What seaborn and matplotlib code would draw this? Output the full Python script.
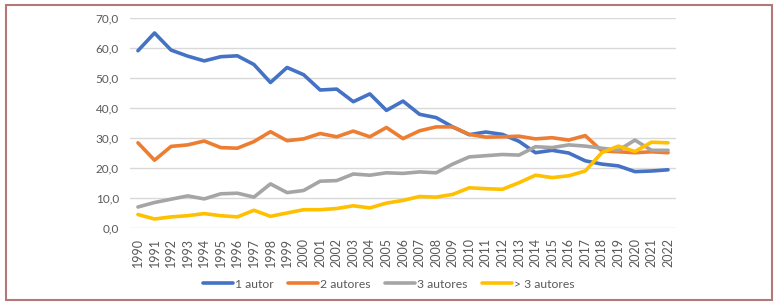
import numpy as np
import pandas as pd
import matplotlib
matplotlib.use("Agg")
import matplotlib.pyplot as plt
import seaborn as sns
from matplotlib.patches import Rectangle

years = list(range(1990, 2023))
autor_1 = [59.2, 65.1, 59.4, 57.4, 55.8, 57.2, 57.5, 54.6, 48.6, 53.6, 51.2,
           46.1, 46.4, 42.2, 44.8, 39.3, 42.4, 38.0, 36.9, 33.8, 31.2, 32.1,
           31.3, 29.0, 25.2, 26.0, 25.1, 22.5, 21.4, 20.8, 18.9, 19.1, 19.5]
autores_2 = [28.5, 22.7, 27.3, 27.8, 29.1, 26.9, 26.7, 28.9, 32.2, 29.2, 29.8,
             31.6, 30.5, 32.4, 30.5, 33.6, 29.9, 32.5, 33.8, 33.8, 31.3, 30.4,
             30.5, 30.7, 29.8, 30.2, 29.4, 30.9, 25.8, 25.5, 25.2, 25.5, 25.2]
autores_3 = [7.1, 8.6, 9.7, 10.8, 9.8, 11.5, 11.7, 10.4, 14.8, 11.9, 12.6,
             15.7, 15.9, 18.1, 17.7, 18.5, 18.3, 18.8, 18.5, 21.4, 23.8, 24.2,
             24.6, 24.4, 27.2, 26.9, 27.8, 27.4, 26.7, 26.0, 29.4, 26.0, 26.0]
autores_mas3 = [4.6, 3.1, 3.8, 4.2, 4.9, 4.2, 3.8, 6.0, 4.0, 5.1, 6.2,
                6.2, 6.6, 7.5, 6.8, 8.4, 9.3, 10.6, 10.4, 11.3, 13.5, 13.2,
                13.0, 15.2, 17.7, 16.9, 17.5, 19.1, 25.2, 27.4, 25.6, 28.7, 28.5]
series_names = ["1 autor", "2 autores", "3 autores", "> 3 autores"]
colors = ["#4472C4", "#ED7D31", "#A5A5A5", "#FFC000"]
yticks = [0, 10, 20, 30, 40, 50, 60, 70]

df = pd.DataFrame({
    "year": years * 4,
    "value": autor_1 + autores_2 + autores_3 + autores_mas3,
    "serie": sum([[n] * len(years) for n in series_names], []),
})

sns.set_theme(style="white")
plt.rcParams["font.family"] = ["Lato", "DejaVu Sans"]

fig = plt.figure(figsize=(7.77, 3.06), dpi=100)
ax = fig.add_axes([130 / 777, 1 - 228.3 / 306, 546 / 777, 210 / 306])

sns.lineplot(data=df, x="year", y="value", hue="serie", hue_order=series_names,
             palette=colors, linewidth=2.6, ax=ax, legend=False, zorder=3)

ax.set_xlim(1989.52, 2022.48)
ax.set_ylim(0, 70)
ax.set_yticks(yticks)
ax.set_yticklabels([f"{v:.1f}".replace(".", ",") for v in yticks])
ax.set_xticks(years)
ax.set_xticklabels([str(y) for y in years], rotation=90)
ax.grid(axis="y", color="#D9D9D9", linewidth=1.0, zorder=0)
ax.grid(axis="x", visible=False)
for s in ax.spines.values():
    s.set_visible(False)
ax.tick_params(axis="both", length=0, colors="#595959")
ax.tick_params(axis="y", pad=8, labelsize=8.5)
ax.tick_params(axis="x", pad=7, labelsize=9)
ax.set_xlabel("")
ax.set_ylabel("")

handles = [plt.Line2D([], [], color=c, linewidth=2.6) for c in colors]
fig.legend(handles, series_names, loc="center", bbox_to_anchor=(0.5, 1 - 284 / 306),
           ncol=4, frameon=False, fontsize=8.7, handlelength=2.5, handletextpad=0.15,
           columnspacing=1.2, labelcolor="#595959")

fig.patches.append(Rectangle((6 / 777, 1 - 300 / 306), 766 / 777, 295 / 306,
                             transform=fig.transFigure, fill=False,
                             edgecolor="#B57878", linewidth=1.5))

fig.savefig("out.png", dpi=100, facecolor="white")
